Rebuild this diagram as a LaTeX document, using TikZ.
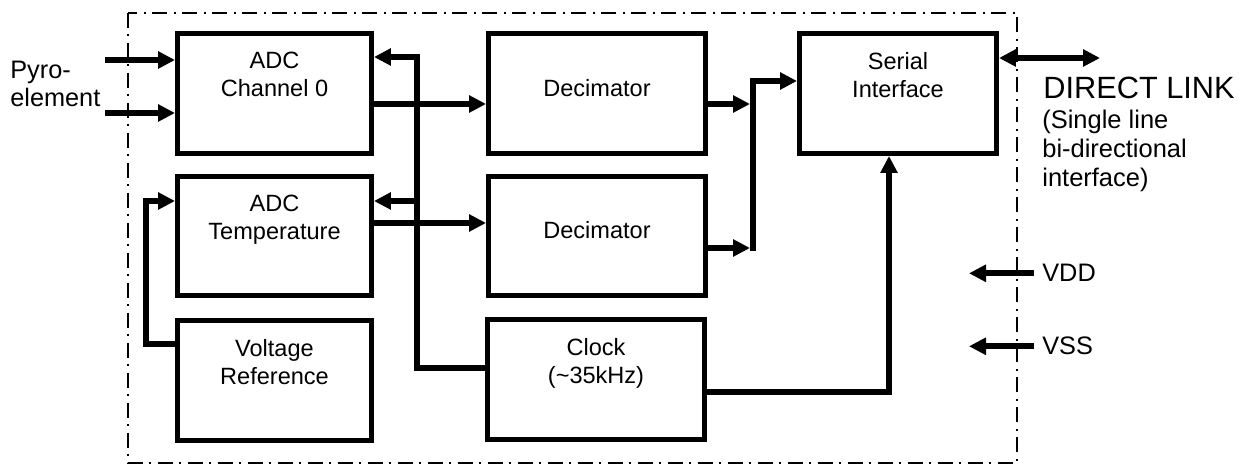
\documentclass[tikz,border=0pt]{standalone}
\usepackage{fontspec}
\setmainfont{Liberation Sans}
\usetikzlibrary{arrows.meta, positioning}

\begin{document}
\begin{tikzpicture}[
    x=0.02cm, y=-0.02cm,
    blk/.style={draw, line width=0.1cm, minimum width=3.88cm, minimum height=2.4cm, inner sep=0},
    wideblk/.style={blk, minimum width=4.34cm},
    txt/.style={font=\fontsize{13.4}{15.9}\selectfont, align=center, inner sep=0},
    pintxt/.style={font=\fontsize{14.4}{15.9}\selectfont, inner sep=0},
    arr/.style={-{Triangle[length=0.34cm, width=0.33cm]}, line width=0.12cm},
    dblarr/.style={{Triangle[length=0.34cm, width=0.33cm]}-{Triangle[length=0.34cm, width=0.33cm]}, line width=0.12cm},
    frame/.style={line width=0.75pt, dash pattern=on 0.3cm off 0.12cm on 0.04cm off 0.14cm},
  ]
  \useasboundingbox (0,0) rectangle (1258,465);
  \draw[frame] (128,13) rectangle (1017,463);

  \node[blk] (adc0) at (274.5,93.5) {};
  \node[blk] (adct) at (274.5,236) {};
  \node[blk] (vref) at (274.5,380.5) {};
  \node[wideblk] (dec1) at (597,93.5) {};
  \node[wideblk] (dec2) at (597,236) {};
  \node[wideblk] (clk) at (596,379.5) {};
  \node[blk, minimum width=3.94cm] (ser) at (898,93.5) {};

  \node[txt, below=0.42cm of adc0.north] (adc0t) {ADC\\Channel 0};
  \node[txt, below=0.42cm of adct.north] (adctt) {ADC\\Temperature};
  \node[txt, below=0.42cm of vref.north] (vreft) {Voltage\\Reference};
  \node[txt, below=0.96cm of dec1.north] (dec1t) {Decimator};
  \node[txt, below=0.96cm of dec2.north] (dec2t) {Decimator};
  \node[txt, below=0.42cm of clk.north] (clkt) {Clock\\(\textasciitilde 35kHz)};
  \node[txt, below=0.42cm of ser.north] (sert) {Serial\\Interface};

  \node[pintxt, anchor=north west, align=left] (pyro) at (10,61) {Pyro-\\element};
  \node[font=\fontsize{17.5}{20}\selectfont, inner sep=0, anchor=base west] (link) at (1043,99) {DIRECT LINK};
  \node[font=\fontsize{14.5}{16.5}\selectfont, inner sep=0, align=left, anchor=north west] (linkinfo) at (1042,110) {(Single line\\bi-directional\\interface)};
  \node[pintxt, inner xsep=0.16cm, anchor=base west] (vdd) at (1034,282) {VDD};
  \node[pintxt, inner xsep=0.16cm, anchor=base west] (vss) at (1034,355) {VSS};

  \coordinate (p1) at (105,60);
  \coordinate (p2) at (105,113);
  \coordinate (bustop) at (417,57);
  \coordinate (busmid) at (417,201);
  \coordinate (busbot) at (417,368);
  \coordinate (j1) at (750,104);
  \coordinate (j2) at (750,248);
  \coordinate (jtop) at (753,81);
  \coordinate (jbot) at (753,251);
  \coordinate (fb) at (146,344);
  \coordinate (lnk) at (1100,58);

  \draw[arr] (p1) -- (adc0.west |- p1);
  \draw[arr] (p2) -- (adc0.west |- p2);
  \draw[arr] (clk.west |- busbot) -- (busbot) -- (bustop) -- (adc0.east |- bustop);
  \draw[arr] (busmid) -- (adct.east |- busmid);
  \draw[arr] (adc0.east |- 0,104) -- (dec1.west |- 0,104);
  \draw[arr] (adct.east |- 0,223) -- (dec2.west |- 0,223);
  \draw[arr] (vref.west |- fb) -- (fb) -- (fb |- busmid) -- (adct.west |- busmid);
  \draw[arr] (dec1.east |- j1) -- (j1);
  \draw[arr] (dec2.east |- j2) -- (j2);
  \draw[arr] (jbot) -- (jtop) -- (ser.west |- jtop);
  \draw[arr] (clk.east |- 0,392) -| (ser.south -| 889,0);
  \draw[dblarr] (ser.east |- lnk) -- (lnk);
  \draw[arr] (vdd.west) -- ++(-65,0);
  \draw[arr] (vss.west) -- ++(-65,0);
\end{tikzpicture}
\end{document}
